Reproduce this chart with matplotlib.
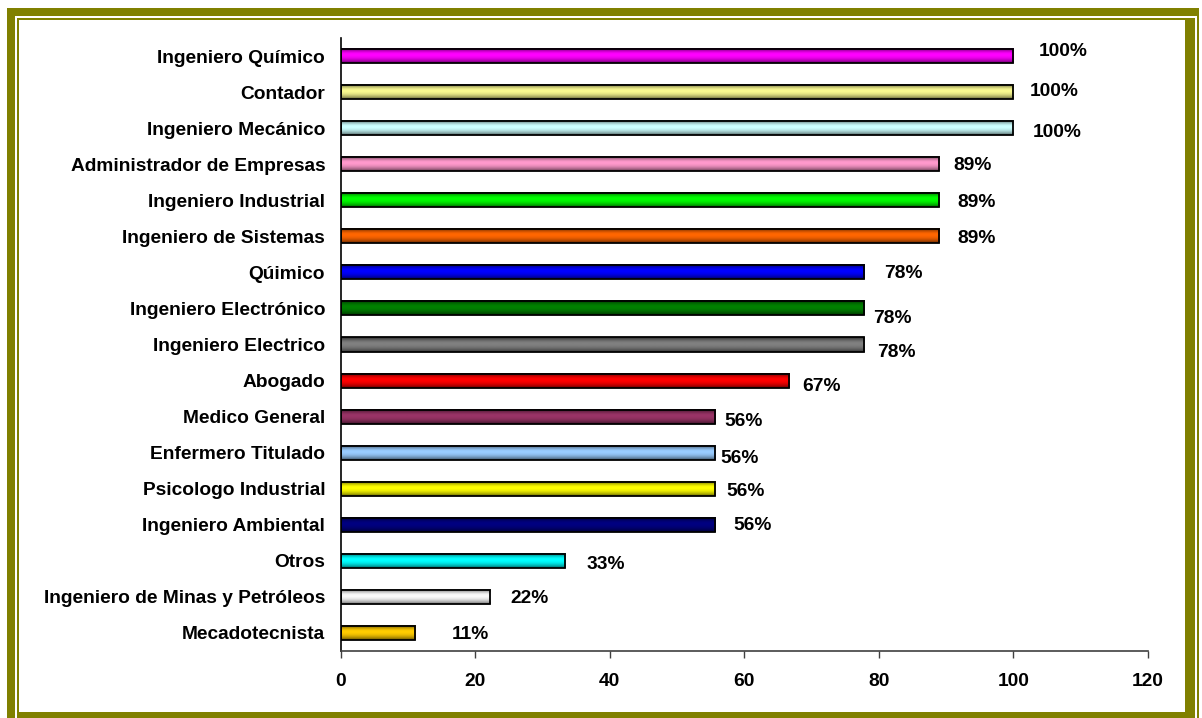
import numpy as np
import matplotlib.pyplot as plt
from matplotlib.colors import to_rgb
from matplotlib.patches import Rectangle

plt.rcParams['font.family'] = ['Liberation Sans', 'DejaVu Sans']
plt.rcParams['font.weight'] = 'bold'

carreras = ["Ingeniero Químico", "Contador", "Ingeniero Mecánico",
            "Administrador de Empresas", "Ingeniero Industrial",
            "Ingeniero de Sistemas", "Qúimico", "Ingeniero Electrónico",
            "Ingeniero Electrico", "Abogado", "Medico General",
            "Enfermero Titulado", "Psicologo Industrial", "Ingeniero Ambiental",
            "Otros", "Ingeniero de Minas y Petróleos", "Mecadotecnista"]
porcentaje = [100, 100, 100, 88.9, 88.9, 88.9, 77.8, 77.8, 77.8, 66.7,
              55.6, 55.6, 55.6, 55.6, 33.3, 22.2, 11.1]
colores = ["#FF00FF", "#F8F890", "#CCFFFF", "#FF99CC", "#00FF00", "#FF6600",
           "#0000FF", "#008000", "#808080", "#FF0000", "#993366", "#99CCFF",
           "#FFFF00", "#000080", "#00FFFF", "#FFFFFF", "#FFCC00"]
# desplazamiento de cada etiqueta (px) respecto al extremo de la barra
desp = [(25, 5), (16, 1), (19, -4), (15, -1), (19, -2), (19, -2), (20, -1),
        (9, -10), (13, -8), (13, -6), (10, -5), (6, -6), (12, -3), (19, -1),
        (22, -4), (20, -2), (37, -2)]

W, H = 1202, 718
fig = plt.figure(figsize=(W / 100, H / 100), dpi=100)
ax = fig.add_axes([340.5 / W, 1 - 651 / H, 807.5 / W, 613 / H])

n = len(carreras)
y = np.arange(n)[::-1]
alto = 0.39
fs = 13.8

# sombreado tipo cilindro para cada barra
perfil = np.array([0.45, 0.7, 0.9, 1.0, 1.0, 0.95, 0.85, 0.7, 0.5])
for yi, v, c in zip(y, porcentaje, colores):
    rgb = np.array(to_rgb(c))
    filas = rgb[None, :] * perfil[:, None]
    if c == "#FFFFFF":
        filas = np.clip(filas * 0.9 + 0.08, 0, 1)
    img = filas[:, None, :]
    ax.imshow(img, extent=(0, v, yi - alto / 2, yi + alto / 2),
              aspect='auto', interpolation='bilinear', zorder=2)
    ax.barh(yi, v, height=alto, color='none', edgecolor='black',
            linewidth=1.3, zorder=3)

for yi, v, (dx, dy) in zip(y, porcentaje, desp):
    ax.annotate(f"{v:.0f}%", xy=(v, yi), xytext=(dx * 0.72, dy * 0.72),
                textcoords='offset points', ha='left', va='center',
                fontsize=fs, fontweight='bold')

ax.set_xlim(0, 120)
ax.set_ylim(-0.5, n - 0.5)
ax.set_xticks(np.arange(0, 121, 20))
ax.set_yticks(y)
ax.set_yticklabels(carreras)
ax.tick_params(axis='y', length=0, pad=11, labelsize=fs)
ax.tick_params(axis='x', length=5, width=1, pad=11, labelsize=fs,
               direction='out', color='#404040')
for s in ['top', 'right']:
    ax.spines[s].set_visible(False)
ax.spines['left'].set_linewidth(1.2)
ax.spines['bottom'].set_linewidth(1.2)
ax.spines['bottom'].set_color('#404040')

# marco doble alrededor de la figura (cajas en px: x0, y0, x1, y1 desde arriba)
oliva = '#808000'
marco = [(7, 8, 1199, 16), (7, 8, 15, 718), (17, 18, 1185, 20),
         (17, 18, 19, 718), (1185, 18, 1195, 718), (1197, 16, 1199, 718),
         (17, 712, 1185, 718)]
for x0, y0, x1, y1 in marco:
    fig.patches.append(Rectangle((x0 / W, 1 - y1 / H), (x1 - x0) / W,
                                 (y1 - y0) / H, transform=fig.transFigure,
                                 facecolor=oliva, edgecolor='none'))

fig.savefig("out.png", dpi=100)
